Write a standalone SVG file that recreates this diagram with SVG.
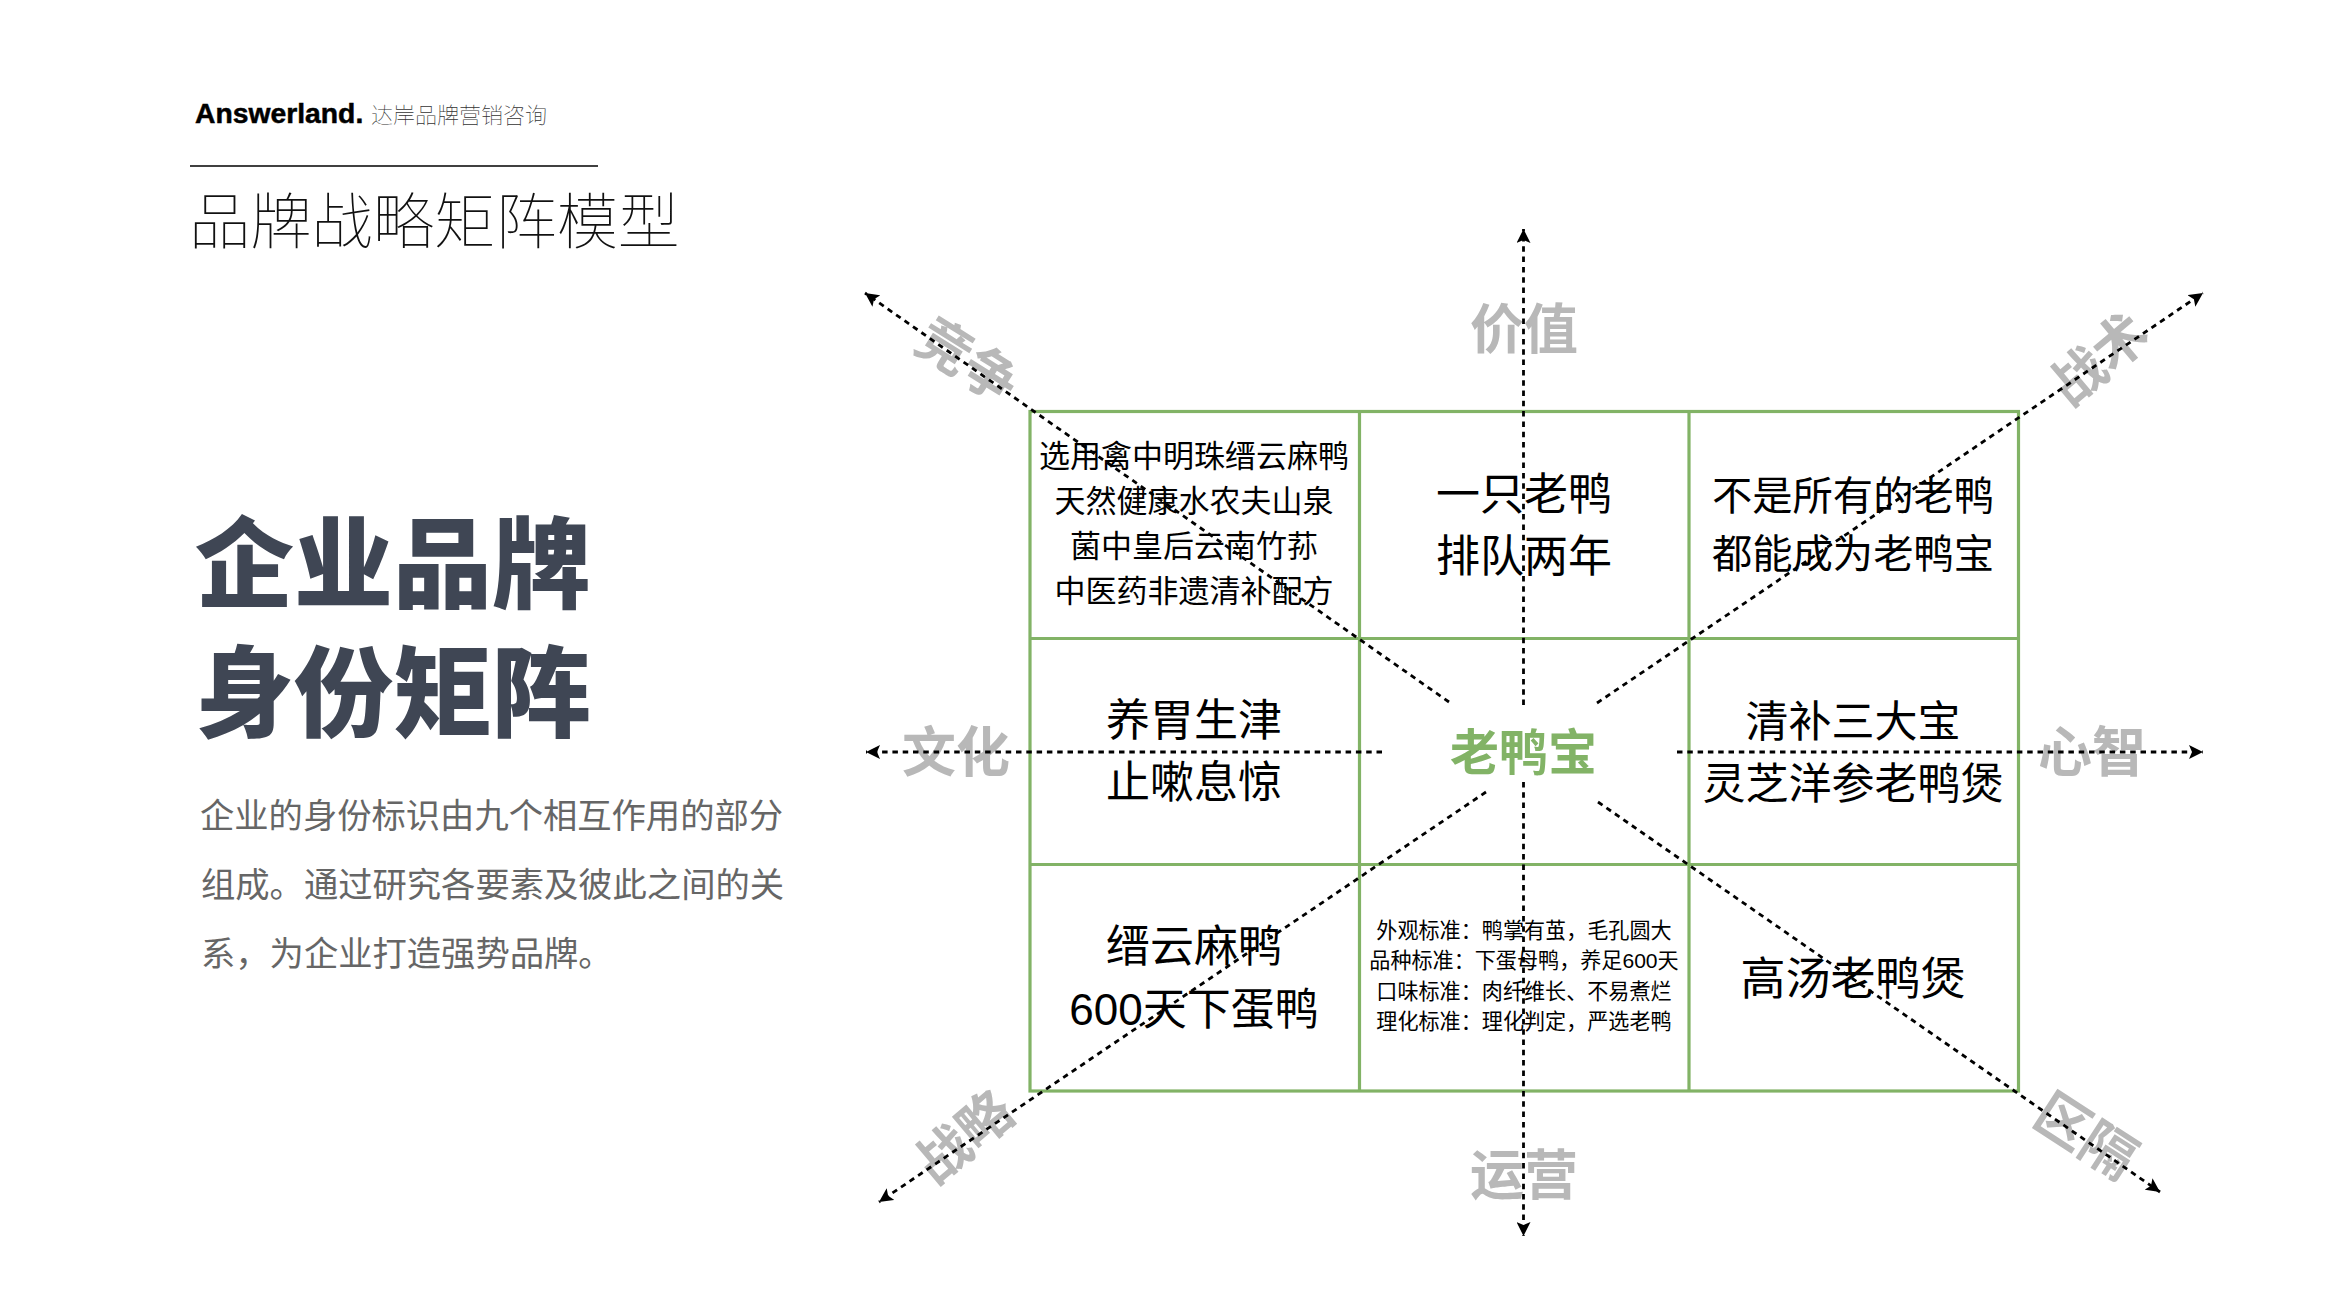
<svg xmlns="http://www.w3.org/2000/svg" width="2352" height="1316" viewBox="0 0 2352 1316">
<style>
text{font-family:"Liberation Sans","Noto Sans CJK SC",sans-serif}
.c{text-anchor:middle;fill:#000}
.l{fill:#b8b8b8;font-weight:700;font-size:54px;text-anchor:middle}
.b{fill:#666;font-size:34.3px}
.h{fill:#3f4654;font-weight:900;font-size:99px}
.g{fill:none;stroke:#82b366;stroke-width:3.2}
.a{stroke:#000;stroke-width:2.8;stroke-dasharray:5.5 4.8;fill:none;marker-end:url(#ah)}
</style>
<defs><marker id="ah" markerUnits="userSpaceOnUse" markerWidth="16" markerHeight="14" refX="14" refY="7" orient="auto"><path d="M0 0L14 7L0 14L3 7Z" fill="#000"/></marker></defs>
<rect width="2352" height="1316" fill="#fff"/>
<g id="header">
<text x="195" y="123" font-size="28.3" font-weight="700" fill="#000" stroke="#000" stroke-width="0.5">Answerland.</text>
<text x="371" y="123" font-size="22" fill="#333" font-weight="100">达岸品牌营销咨询</text>
<line x1="190" y1="166" x2="598" y2="166" stroke="#000" stroke-width="1.5"/>
<text x="189" y="244" font-size="61.3" font-weight="100" fill="#111">品牌战略矩阵模型</text>
</g>
<g id="intro">
<text class="h" x="195" y="600">企业品牌</text>
<text class="h" x="195" y="729">身份矩阵</text>
<text class="b" x="200" y="828">企业的身份标识由九个相互作用的部分</text>
<text class="b" x="201" y="897">组成。通过研究各要素及彼此之间的关</text>
<text class="b" x="201" y="966">系，为企业打造强势品牌。</text>
</g>
<g id="grid">
<rect class="g" x="1030" y="411.5" width="988.5" height="679.5"/>
<path class="g" d="M1359.5 411.5V1091M1689 411.5V1091M1030 638.5H2018.5M1030 864.5H2018.5"/>
</g>
<g id="cell-1"><g class="c" font-size="31"><text x="1194" y="467">选用禽中明珠缙云麻鸭</text><text x="1194" y="512">天然健康水农夫山泉</text><text x="1194" y="557">菌中皇后云南竹荪</text><text x="1194" y="602">中医药非遗清补配方</text></g></g>
<g id="cell-2"><g class="c" font-size="44"><text x="1524" y="510">一只老鸭</text><text x="1524" y="572">排队两年</text></g></g>
<g id="cell-3"><g class="c" font-size="40.3"><text x="1853" y="510">不是所有的老鸭</text><text x="1853" y="568">都能成为老鸭宝</text></g></g>
<g id="cell-4"><g class="c" font-size="44"><text x="1194" y="736">养胃生津</text><text x="1194" y="798">止嗽息惊</text></g></g>
<g id="center"><text x="1523.5" y="770" font-size="49" font-weight="700" fill="#82b366" text-anchor="middle">老鸭宝</text></g>
<g id="cell-6"><g class="c" font-size="43"><text x="1853" y="737">清补三大宝</text><text x="1853" y="799">灵芝洋参老鸭煲</text></g></g>
<g id="cell-7"><g class="c" font-size="44"><text x="1194" y="962">缙云麻鸭</text><text x="1194" y="1025">600天下蛋鸭</text></g></g>
<g id="cell-8"><g class="c" font-size="21.1"><text x="1524" y="938">外观标准：鸭掌有茧，毛孔圆大</text><text x="1524" y="968">品种标准：下蛋母鸭，养足600天</text><text x="1524" y="999">口味标准：肉纤维长、不易煮烂</text><text x="1524" y="1029">理化标准：理化判定，严选老鸭</text></g></g>
<g id="cell-9"><text class="c" x="1853" y="995" font-size="45">高汤老鸭煲</text></g>
<g id="labels">
<text class="l" x="1524" y="349">价值</text>
<text class="l" x="1524" y="1195">运营</text>
<text class="l" x="956" y="772">文化</text>
<text class="l" x="2092" y="772">心智</text>
<text class="l" transform="translate(967 362) rotate(32)" y="18">竞争</text>
<text class="l" transform="translate(2100 360) rotate(-40)" y="18">战术</text>
<text class="l" transform="translate(965 1138) rotate(-40)" y="18">战略</text>
<text class="l" transform="translate(2085 1137) rotate(33)" y="18">区隔</text>
</g>
<g id="connectors">
<line class="a" x1="1523.5" y1="705" x2="1523.5" y2="229"/>
<line class="a" x1="1523.5" y1="782" x2="1523.5" y2="1236"/>
<line class="a" x1="1382" y1="752" x2="866" y2="752"/>
<line class="a" x1="1677" y1="752" x2="2203" y2="752"/>
<line class="a" x1="1449" y1="702" x2="865" y2="293"/>
<line class="a" x1="1597" y1="703" x2="2203" y2="293"/>
<line class="a" x1="1486" y1="792" x2="879" y2="1202"/>
<line class="a" x1="1598" y1="802" x2="2160" y2="1192"/>
</g>
</svg>
